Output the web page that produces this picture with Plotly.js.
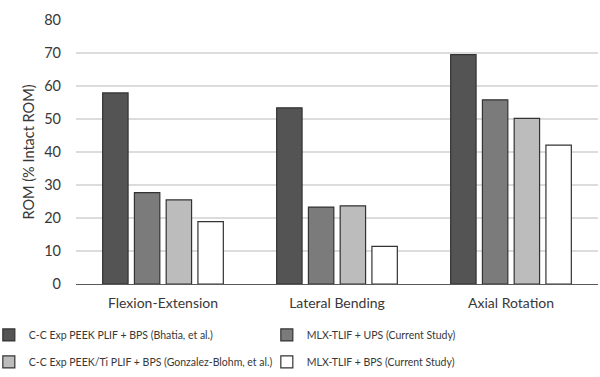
<!DOCTYPE html>
<html><head><meta charset="utf-8">
<script src="https://cdn.plot.ly/plotly-3.0.1.min.js"></script>
<style>html,body{margin:0;padding:0;background:#fff}</style>
</head><body><div id="chart" style="width:600px;height:377px"></div>
<script>
const categories = ["Flexion-Extension", "Lateral Bending", "Axial Rotation"];
const seriesNames = [
  "C-C Exp PEEK PLIF + BPS (Bhatia, et al.)",
  "MLX-TLIF + UPS (Current Study)",
  "C-C Exp PEEK/Ti PLIF + BPS (Gonzalez-Blohm, et al.)",
  "MLX-TLIF + BPS (Current Study)"
];
const bhatia = [57.9, 53.4, 69.5];
const mlxUps = [27.7, 23.3, 55.8];
const gonzalez = [25.5, 23.7, 50.2];
const mlxBps = [18.9, 11.4, 42.1];
const yTicks = [0, 10, 20, 30, 40, 50, 60, 70, 80];

const fills = ["#545454", "#7b7b7b", "#bcbcbc", "#ffffff"];
const values = [bhatia, mlxUps, gonzalez, mlxBps];
const legends = ["legend", "legend", "legend2", "legend2"];

const traces = values.map((v, i) => ({
  type: "bar",
  name: seriesNames[i],
  x: categories,
  y: v,
  legend: legends[i],
  marker: {color: fills[i], line: {color: "#333333", width: 1.2}},
  hoverinfo: "skip"
}));

const fam = "Lato, 'Open Sans', sans-serif";
const txt = "#383838";

function legendCfg(yPaper) {
  return {
    orientation: "h",
    x: -0.167, xanchor: "left", y: yPaper, yanchor: "middle",
    entrywidth: 233, entrywidthmode: "pixels",
    font: {size: 10.5, color: txt, family: fam},
    itemwidth: 30, traceorder: "normal", bgcolor: "rgba(0,0,0,0)"
  };
}

const layout = {
  width: 600, height: 377,
  margin: {l: 76, r: 2, t: 20, b: 93, autoexpand: false},
  paper_bgcolor: "#fff", plot_bgcolor: "#fff",
  font: {family: fam, color: txt},
  barmode: "group",
  bargap: 0.27,
  bargroupgap: 0.2,
  showlegend: true,
  xaxis: {
    showline: true, linecolor: "#595959", linewidth: 1.2,
    ticks: "", tickfont: {size: 14, color: txt, family: fam},
    ticklabelstandoff: 6
  },
  yaxis: {
    range: [0, 80], tickvals: yTicks, ticktext: yTicks.map(String),
    showgrid: true, gridcolor: "#dcdcdc", gridwidth: 1.3,
    zeroline: false, showline: false, ticks: "",
    tickfont: {size: 14.5, color: txt, family: fam},
    ticklabelstandoff: 14,
    title: {text: "ROM (% Intact ROM)", font: {size: 14.5, color: txt, family: fam}, standoff: 6}
  },
  legend: legendCfg(-0.193),
  legend2: legendCfg(-0.295)
};

Plotly.newPlot("chart", traces, layout, {displayModeBar: false, staticPlot: true});
</script></body></html>
